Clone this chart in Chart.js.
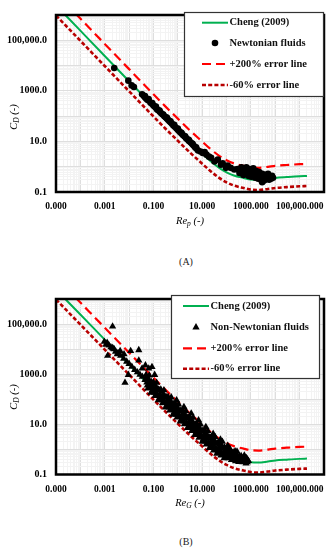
<!DOCTYPE html>
<html>
<head>
<meta charset="utf-8">
<script src="https://cdn.jsdelivr.net/npm/chart.js@4.4.1/dist/chart.umd.min.js"></script>
<style>
  body { margin: 0; background: #fff; }
  #wrap { position: relative; width: 333px; height: 550px; }
  canvas { position: absolute; left: 0; }
  .cap { position: absolute; left: 136px; width: 100px; text-align: center; line-height: 12px;
         font: 10px "Liberation Serif", serif; color: #222; }
</style>
</head>
<body>
<div id="wrap">
  <canvas id="chartA" width="333" height="232" style="top:0"></canvas>
  <div class="cap" style="top:256px">(A)</div>
  <canvas id="chartB" width="333" height="232" style="top:284px"></canvas>
  <div class="cap" style="top:536px">(B)</div>
</div>
<script>
// axis ticks (log axes, labels every two decades)
const xTickValues = [1e-5, 1e-3, 1e-1, 1e1, 1e3, 1e5];
const xTickLabels = ['0.000', '0.001', '0.100', '10.000', '1000.000', '100,000.000'];
const yTickValues = [1e-1, 1e1, 1e3, 1e5];
const yTickLabels = ['0.1', '10.0', '1000.0', '100,000.0'];

const seriesNames = ['Cheng (2009)', '+200% error line', '-60% error line'];

// drag curve and the two error lines
const curveRe = [1e-5, 1e-4, 1e-3, 1e-2, 0.1, 0.3, 1, 3, 10, 20, 50, 100, 200, 500, 1000, 2000, 5000, 1e4, 3e4, 1e5, 2e5];
const chengCd = [2.4e6, 2.4e5, 24000, 2410, 243, 83, 26.6, 9.5, 3.3, 1.8, 0.9, 0.6, 0.45, 0.36, 0.31, 0.30, 0.33, 0.36, 0.39, 0.42, 0.43];
const plus200Cd = [7.2e6, 7.2e5, 72000, 7230, 729, 249, 79.8, 28.5, 9.9, 5.4, 2.7, 1.8, 1.35, 1.08, 0.93, 0.90, 0.99, 1.08, 1.17, 1.26, 1.29];
const minus60Cd = [9.6e5, 9.6e4, 9600, 964, 97.2, 33.2, 10.6, 3.8, 1.32, 0.72, 0.36, 0.24, 0.18, 0.144, 0.124, 0.12, 0.132, 0.144, 0.156, 0.168, 0.172];

// (A) Newtonian fluids [Re_p, C_D]
const newtonianPoints = [
  [0.00245, 8010], [0.0093, 2530], [0.0127, 1640], [0.0158, 1415], [0.0342, 733],
  [0.0398, 640], [0.0447, 560], [0.0447, 620], [0.0501, 500], [0.0562, 450], [0.0631, 420], [0.0631, 470],
  [0.0759, 340], [0.0891, 300], [0.0891, 330], [0.1, 265], [0.112, 240], [0.126, 215], [0.126, 240],
  [0.141, 185], [0.158, 170], [0.178, 165], [0.182, 150], [0.209, 130], [0.240, 115], [0.251, 115],
  [0.282, 98], [0.316, 90], [0.355, 80], [0.355, 88], [0.398, 72], [0.447, 64], [0.501, 57], [0.501, 62],
  [0.575, 50], [0.661, 43], [0.71, 45], [0.759, 38], [0.871, 33], [1.0, 29], [1.0, 32], [1.12, 26],
  [1.26, 23], [1.41, 22], [1.45, 20], [1.66, 17.5], [1.91, 15.5], [2.0, 15.8], [2.19, 13.5], [2.51, 12],
  [2.82, 11.5], [2.88, 10.5], [3.31, 9.3], [3.80, 8.2], [4.0, 8.0], [4.37, 7], [5.01, 6], [5.6, 5.8],
  [5.75, 5.2], [6.76, 4.4],
  [8.5, 4.0], [10.5, 3.5], [12.6, 3.8], [15, 3.0], [19, 2.5], [23.3, 2.26], [32, 1.6], [43.7, 1.9],
  [59, 1.2], [69.5, 1.38], [94.6, 0.9], [111, 1.1], [147, 0.9], [207, 0.78],
  [281, 0.80], [339, 0.565], [408, 0.95], [449, 0.67], [492, 0.475], [541, 0.80], [593, 0.565],
  [652, 0.95], [715, 0.67], [785, 0.435], [861, 0.80], [946, 0.565], [1038, 0.40], [1140, 0.67],
  [1250, 0.87], [1374, 0.52], [1507, 0.366], [1655, 0.67], [1816, 0.475], [1995, 0.336], [2188, 0.62],
  [2404, 0.435], [2636, 0.308], [2897, 0.52], [3177, 0.366], [3491, 0.283], [3828, 0.475], [4198, 0.336],
  [4613, 0.40], [5058, 0.52], [5559, 0.308], [6095, 0.40], [6699, 0.336], [7345, 0.435], [8072, 0.366],
  [2897, 0.245]
];

// (B) Non-Newtonian fluids [Re_G, C_D]
const nonNewtonianPoints = [
  [0.0021, 80000], [0.00096, 20000], [0.00112, 15000], [0.00132, 5500], [0.0021, 11200], [0.00245, 10000],
  [0.0033, 6300], [0.0043, 8500], [0.0062, 6300], [0.0116, 8450], [0.025, 9200], [0.0068, 457],
  [0.0093, 946], [0.025, 3550], [0.0342, 1700], [0.0468, 2270], [0.064, 1700], [0.087, 1950], [0.112, 946],
  [0.00126, 18000], [0.0015, 14000], [0.0018, 12000], [0.0022, 10500], [0.0028, 8000], [0.0035, 7000],
  [0.0045, 5500], [0.006, 4200], [0.008, 3200], [0.01, 2600], [0.013, 2000], [0.017, 1500], [0.022, 1200],
  [0.028, 950], [0.035, 800], [0.045, 600],
  [0.0501, 955], [0.0537, 468], [0.0589, 269], [0.0631, 501], [0.0676, 891], [0.0741, 292],
  [0.0794, 184], [0.0851, 452], [0.0933, 292], [0.1, 484], [0.107, 237], [0.117, 138],
  [0.126, 257], [0.135, 457], [0.148, 148], [0.158, 93], [0.170, 229], [0.186, 150],
  [0.2, 248], [0.214, 122], [0.234, 70], [0.251, 130], [0.269, 232], [0.295, 76],
  [0.316, 48], [0.339, 117], [0.372, 76], [0.398, 126], [0.427, 62], [0.468, 36],
  [0.501, 68], [0.537, 120], [0.589, 39], [0.631, 24.5], [0.676, 60], [0.741, 39.4],
  [0.794, 66], [0.851, 32.4], [0.933, 18.8], [1.0, 35], [1.072, 63], [1.175, 20.4],
  [1.259, 13], [1.349, 32.4], [1.479, 20.9], [1.585, 35], [1.698, 17.4], [1.862, 10.1],
  [1.995, 19], [2.138, 34.3], [2.344, 11.2], [2.512, 7.2], [2.692, 17.8], [2.951, 11.6],
  [3.162, 19.5], [3.388, 9.5], [3.715, 5.5], [3.981, 10.4], [4.266, 18.4], [4.677, 6.0],
  [5.012, 3.8], [5.37, 9.3], [5.888, 6.1], [6.31, 10.2], [6.76, 5.0], [7.41, 2.92],
  [7.94, 5.5], [8.51, 9.9], [9.33, 3.2], [10, 2.04], [10.7, 5.07], [11.7, 3.31],
  [12.6, 5.56], [13.5, 2.75], [14.8, 1.6], [15.8, 3.02], [17.0, 5.43], [18.6, 1.8],
  [20, 1.15], [21.4, 2.85], [23.4, 1.88], [25.1, 3.16], [26.9, 1.57], [29.5, 0.92],
  [31.6, 1.74], [33.9, 3.16], [37.2, 1.05], [39.8, 0.68], [42.7, 1.7], [46.8, 1.12],
  [50.1, 1.91], [53.7, 0.97], [58.9, 0.58], [63.1, 1.12], [67.6, 2.04], [74.1, 0.69],
  [79.4, 0.45], [85.1, 1.12], [93.3, 0.76], [100, 1.05], [107, 0.65], [117, 0.45],
  [126, 0.71], [135, 1.10], [148, 0.51], [158, 0.38], [170, 0.72], [186, 0.54],
  [200, 0.78], [214, 0.48], [234, 0.34], [251, 0.54], [269, 0.83], [295, 0.39],
  [316, 0.32], [339, 0.51], [372, 0.42], [398, 0.55], [427, 0.39], [468, 0.31],
  [501, 0.43], [537, 0.58], [589, 0.33], [631, 0.28], [676, 0.44], [741, 0.37], [794, 0.35],
  [0.0519, 767], [0.0562, 355], [0.0653, 610], [0.0708, 282], [0.0822, 490], [0.0891, 226],
  [0.1035, 389], [0.112, 182], [0.130, 313], [0.141, 145], [0.164, 248], [0.178, 115],
  [0.207, 200], [0.224, 92], [0.260, 158], [0.282, 74], [0.327, 127], [0.355, 59],
  [0.412, 101], [0.447, 47], [0.519, 82], [0.562, 38], [0.653, 65], [0.708, 30.5],
  [0.822, 53], [0.891, 24.5], [1.035, 42.7], [1.122, 20], [1.303, 34.7], [1.413, 16.2],
  [1.641, 28.2], [1.778, 13.2], [2.065, 23.3], [2.239, 10.9], [2.60, 19.1], [2.818, 8.95],
  [3.27, 15.7], [3.548, 7.24], [4.12, 12.6], [4.467, 5.89], [5.19, 10.1], [5.623, 4.73],
  [6.53, 8.24], [7.079, 3.85], [8.22, 6.70], [8.913, 3.13], [10.35, 5.46], [11.22, 2.55],
  [13.03, 4.49], [14.13, 2.09], [16.41, 3.70], [17.78, 1.74], [20.65, 3.08], [22.39, 1.45],
  [26.0, 2.56], [28.18, 1.20], [32.7, 2.14], [35.48, 1.01], [41.2, 1.82], [44.67, 0.86],
  [51.9, 1.56], [56.23, 0.75], [65.3, 1.38], [70.8, 0.66], [82.2, 1.21], [89.1, 0.575],
  [103.5, 0.90], [112.2, 0.54], [130.3, 0.82], [141.3, 0.49], [164.1, 0.75], [177.8, 0.44],
  [206.5, 0.67], [223.9, 0.40], [260, 0.62], [281.8, 0.376], [327, 0.52], [354.8, 0.359],
  [412, 0.486], [446.7, 0.339], [519, 0.465], [562, 0.324], [653, 0.445], [708, 0.311],
  [0.891, 93], [1.778, 50], [3.548, 27.5], [7.079, 14.6], [14.13, 7.9], [28.18, 4.2],
  [56.2, 2.5], [112, 1.41], [224, 0.85]
];

const SERIF = '"Liberation Serif", "DejaVu Serif", serif';

function tickIndex(v, list) {
  return list.findIndex(t => Math.abs(Math.log10(v) - Math.log10(t)) < 1e-6);
}

// grid lines at 1..9 x 10^n, decade lines marked major
function gridTicks(lo, hi) {
  const out = [];
  for (let e = Math.round(Math.log10(lo)); e < Math.round(Math.log10(hi)); e++) {
    for (let m = 1; m <= 9; m++) out.push({ value: m * Math.pow(10, e), major: m === 1 });
  }
  out.push({ value: hi, major: true });
  return out;
}

function drawParts(ctx, x, y, parts, rotate) {
  ctx.save();
  ctx.translate(x, y);
  if (rotate) ctx.rotate(-Math.PI / 2);
  let total = 0;
  parts.forEach(p => { ctx.font = p.font; total += ctx.measureText(p.text).width; });
  let cx = -total / 2;
  ctx.textAlign = 'left';
  ctx.textBaseline = 'middle';
  ctx.fillStyle = '#000';
  parts.forEach(p => {
    ctx.font = p.font;
    ctx.fillText(p.text, cx, p.dy || 0);
    cx += ctx.measureText(p.text).width;
  });
  ctx.restore();
}

function framePlugin(cfg) {
  return {
    id: 'frame',
    afterDraw(chart) {
      const ctx = chart.ctx;
      const a = chart.chartArea;
      ctx.save();
      ctx.strokeStyle = '#000';
      ctx.lineWidth = 2.5;
      ctx.strokeRect(a.left, a.top, a.right - a.left, a.bottom - a.top);

      // legend box
      const L = cfg.legend;
      ctx.fillStyle = '#fff';
      ctx.fillRect(L.x, L.y, L.w, L.h);
      ctx.strokeStyle = '#333';
      ctx.lineWidth = 1.2;
      ctx.strokeRect(L.x + 0.5, L.y + 0.5, L.w, L.h);

      const ds = chart.data.datasets;
      [0, 1, 2, 3].forEach((di, row) => {
        const d = ds[di];
        const y = L.rows[row];
        ctx.save();
        if (d.showLine) {
          ctx.strokeStyle = d.borderColor;
          ctx.lineWidth = d.borderWidth;
          ctx.setLineDash(d.borderDash || []);
          ctx.beginPath();
          ctx.moveTo(L.x0, y);
          ctx.lineTo(L.x1, y);
          ctx.stroke();
        } else {
          const mx = (L.x0 + L.x1) / 2;
          const r = d.pointRadius;
          ctx.fillStyle = '#000';
          ctx.beginPath();
          if (d.pointStyle === 'triangle') {
            ctx.moveTo(mx, y - r);
            ctx.lineTo(mx + r * 0.866, y + r * 0.5);
            ctx.lineTo(mx - r * 0.866, y + r * 0.5);
            ctx.closePath();
          } else {
            ctx.arc(mx, y, r, 0, Math.PI * 2);
          }
          ctx.fill();
        }
        ctx.restore();
        ctx.fillStyle = '#111';
        ctx.font = 'bold 10.5px ' + SERIF;
        ctx.textAlign = 'left';
        ctx.textBaseline = 'middle';
        ctx.fillText(d.label, L.x1 + 1.5, y);
      });

      // axis titles with subscripts
      const big = 'italic 10.5px ' + SERIF;
      const small = 'italic 7.5px ' + SERIF;
      drawParts(ctx, (a.left + a.right) / 2, cfg.xTitleY,
        [{ text: 'Re', font: big }, { text: cfg.xSub, font: small, dy: 3 }, { text: ' (-)', font: big }], false);
      drawParts(ctx, 14, cfg.yTitleY,
        [{ text: 'C', font: big }, { text: 'D', font: small, dy: 3 }, { text: ' (-)', font: big }], true);
      ctx.restore();
    }
  };
}

function makeChart(id, cfg) {
  const line = cd => curveRe.map((r, i) => ({ x: r, y: cd[i] }));
  const pts = cfg.points.map(p => ({ x: p[0], y: p[1] }));
  const gridColor = c => (c.tick && c.tick.major) ? '#dedede' : '#f3f3f3';
  new Chart(document.getElementById(id), {
    type: 'scatter',
    data: {
      datasets: [
        { label: seriesNames[0], data: line(chengCd), showLine: true, borderColor: '#00b050',
          borderWidth: 2, pointRadius: 0, cubicInterpolationMode: 'monotone', order: 2 },
        { label: cfg.pointLabel, data: pts, pointStyle: cfg.pointStyle, pointRadius: cfg.pointRadius,
          backgroundColor: '#000', borderColor: '#000', borderWidth: 0, order: 0 },
        { label: seriesNames[1], data: line(plus200Cd), showLine: true, borderColor: '#ff0000',
          borderWidth: 2.2, borderDash: [9, 5], pointRadius: 0, cubicInterpolationMode: 'monotone', order: 1 },
        { label: seriesNames[2], data: line(minus60Cd), showLine: true, borderColor: '#b80000',
          borderWidth: 2.6, borderDash: [4, 2.2], pointRadius: 0, cubicInterpolationMode: 'monotone', order: 1 }
      ]
    },
    options: {
      responsive: false,
      animation: false,
      events: [],
      layout: { padding: { left: 0, right: 7, top: cfg.top, bottom: 0 } },
      plugins: { legend: { display: false }, tooltip: { enabled: false } },
      scales: {
        x: {
          type: 'logarithmic', min: 1e-5, max: 1e6,
          afterBuildTicks: s => { s.ticks = gridTicks(1e-5, 1e6); },
          afterFit: s => { s.height = cfg.xAxisHeight; },
          grid: { color: gridColor, lineWidth: 1, drawTicks: false },
          border: { display: false },
          ticks: {
            autoSkip: false, maxRotation: 0, minRotation: 0, padding: 9, color: '#000',
            font: { family: SERIF, size: 9.5, weight: 'bold' },
            callback: v => { const i = tickIndex(v, xTickValues); return i >= 0 ? xTickLabels[i] : ''; }
          }
        },
        y: {
          type: 'logarithmic', min: 0.1, max: 1e6,
          afterBuildTicks: s => { s.ticks = gridTicks(0.1, 1e6); },
          afterFit: s => { s.width = 56; },
          grid: { color: gridColor, lineWidth: 1, drawTicks: false },
          border: { display: false },
          ticks: {
            autoSkip: false, padding: 9, color: '#000',
            font: { family: SERIF, size: 10, weight: 'bold' },
            callback: v => { const i = tickIndex(v, yTickValues); return i >= 0 ? yTickLabels[i] : ''; }
          }
        }
      }
    },
    plugins: [framePlugin(cfg)]
  });
}

makeChart('chartA', {
  points: newtonianPoints, pointLabel: 'Newtonian fluids', pointStyle: 'circle', pointRadius: 3.3,
  top: 6, xAxisHeight: 40, xSub: 'p', xTitleY: 221.5, yTitleY: 117,
  legend: { x: 184, y: 12, w: 139, h: 84, rows: [22.7, 43, 64, 85], x0: 202, x1: 228 }
});

makeChart('chartB', {
  points: nonNewtonianPoints, pointLabel: 'Non-Newtonian fluids', pointStyle: 'triangle', pointRadius: 4.2,
  top: 6.5, xAxisHeight: 41.5, xSub: 'G', xTitleY: 219.3, yTitleY: 113,
  legend: { x: 171, y: 11, w: 148, h: 83, rows: [22, 43.3, 64.3, 84.7], x0: 183, x1: 209 }
});
</script>
</body>
</html>
